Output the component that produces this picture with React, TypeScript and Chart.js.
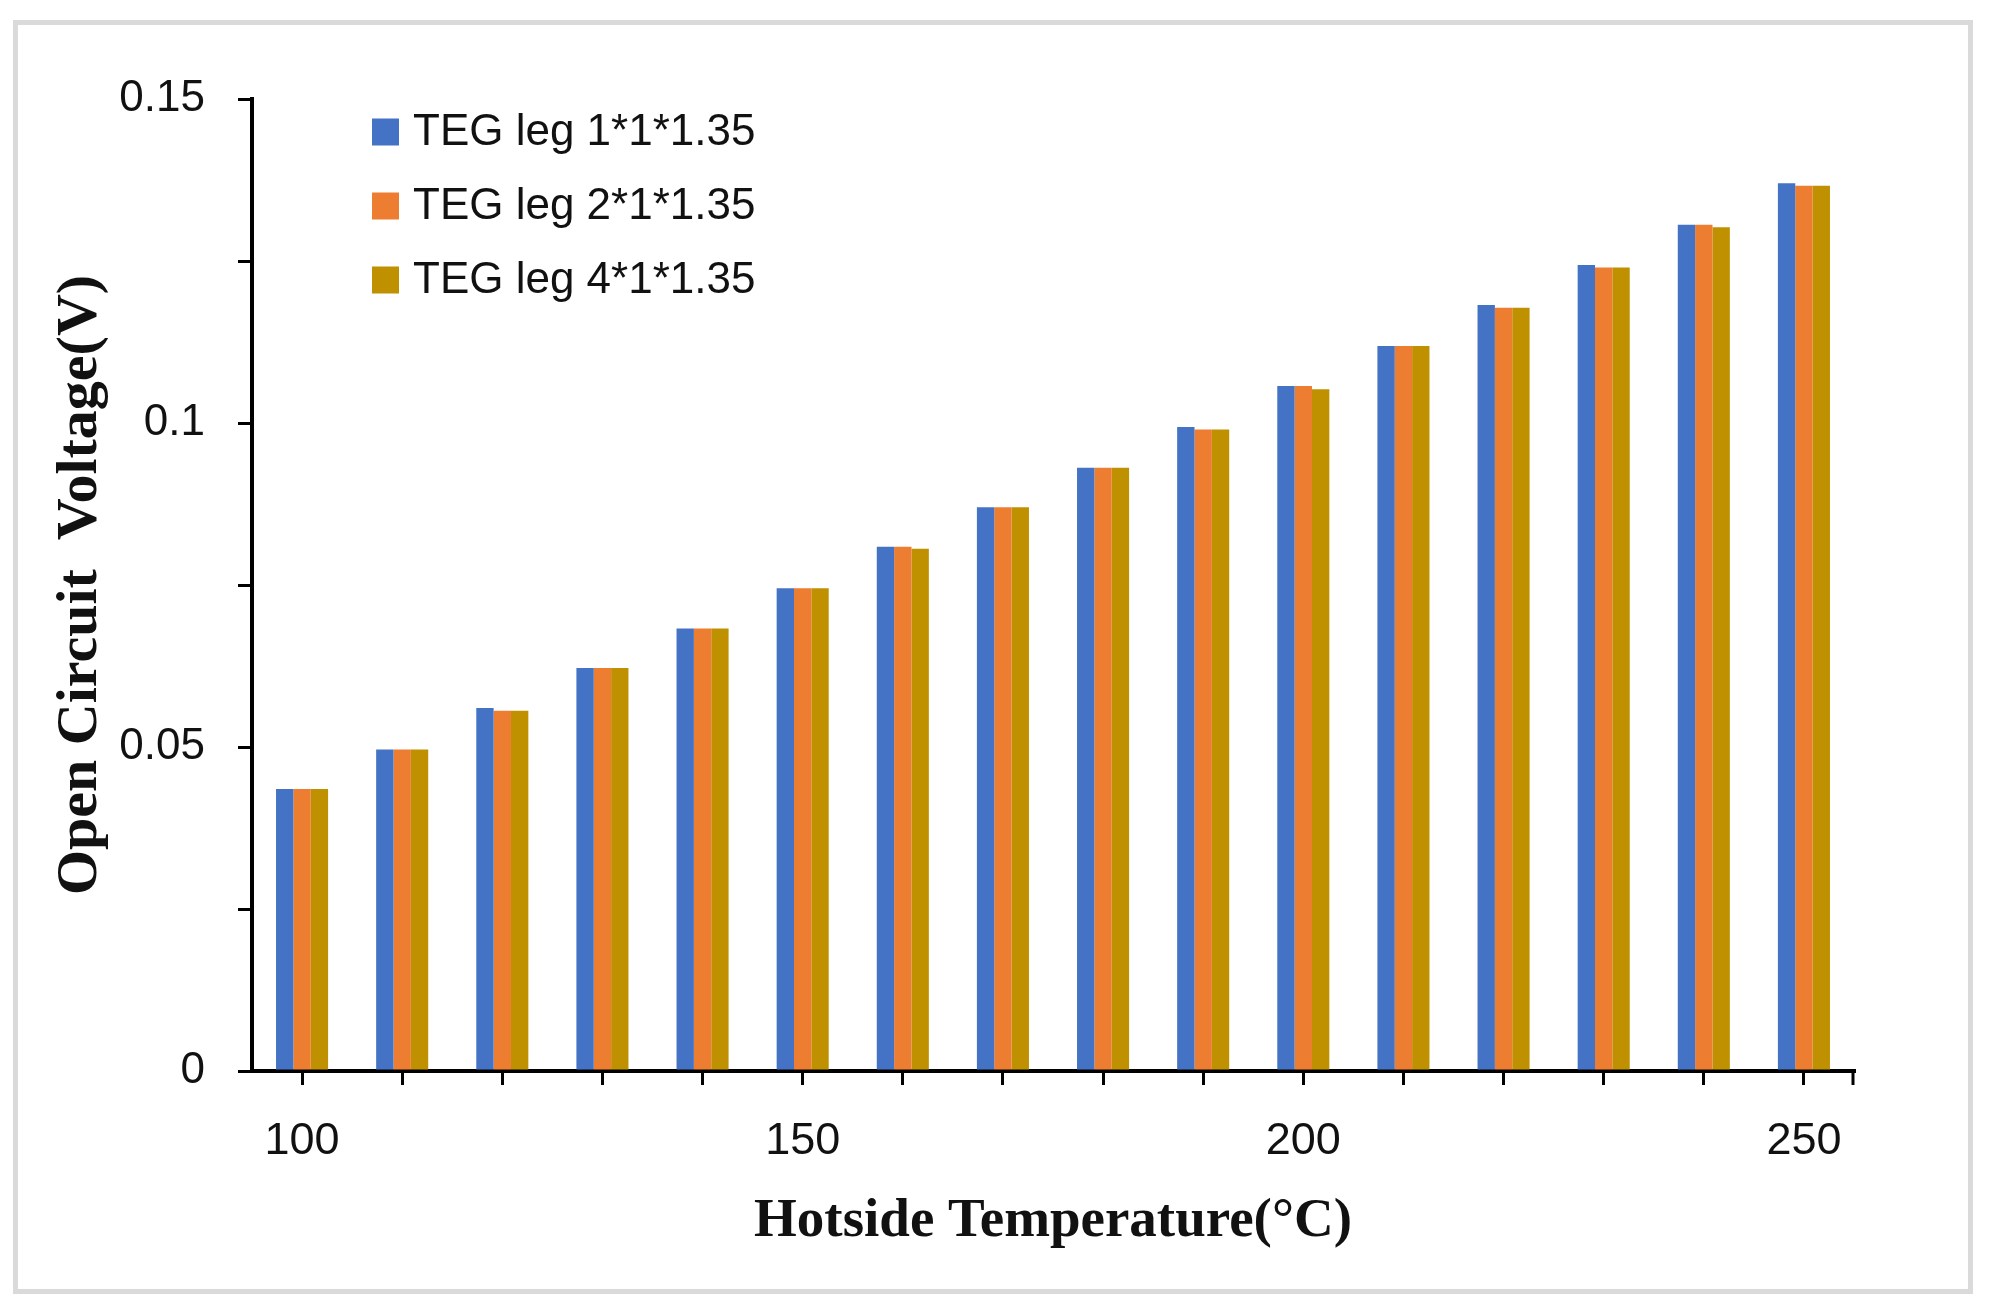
import React, { useEffect, useRef } from "react";
import { Chart, registerables } from "chart.js";

Chart.register(...registerables);

// ---- data ----
const categories = ["100", "110", "120", "130", "140", "150", "160", "170", "180", "190", "200", "210", "220", "230", "240", "250"];
const seriesLabels = ["TEG leg 1*1*1.35", "TEG leg 2*1*1.35", "TEG leg 4*1*1.35"];
const leg1Values = [0.0435, 0.0496, 0.0560, 0.0622, 0.0683, 0.0745, 0.0809, 0.0870, 0.0931, 0.0994, 0.1057, 0.1119, 0.1182, 0.1244, 0.1306, 0.1370];
const leg2Values = [0.0435, 0.0496, 0.0556, 0.0622, 0.0683, 0.0745, 0.0809, 0.0870, 0.0931, 0.0990, 0.1057, 0.1119, 0.1178, 0.1240, 0.1306, 0.1366];
const leg4Values = [0.0435, 0.0496, 0.0556, 0.0622, 0.0683, 0.0745, 0.0806, 0.0870, 0.0931, 0.0990, 0.1052, 0.1119, 0.1178, 0.1240, 0.1302, 0.1366];
const seriesColors = ["#4472C4", "#ED7D31", "#BF9000"];
const xTickLabels = ["100", "150", "200", "250"];
const yTickLabels = ["0", "0.05", "0.1", "0.15"];
const xTitle = "Hotside Temperature(\u00B0C)";
const yTitle = "Open Circuit  Voltage(V)";

const insideLegend = {
  id: "insideLegend",
  afterDraw(chart: any) {
    const { ctx, chartArea } = chart;
    ctx.save();
    ctx.font = "44px 'Liberation Sans'";
    ctx.textBaseline = "middle";
    ctx.textAlign = "left";
    chart.data.datasets.forEach((ds: any, i: number) => {
      const cy = chartArea.top + 33 + i * 74;
      const bx = chartArea.left + 120;
      ctx.fillStyle = ds.backgroundColor;
      ctx.fillRect(bx, cy - 13.5, 27, 27);
      ctx.fillStyle = "#111";
      ctx.fillText(ds.label, bx + 41, cy + 1);
    });
    // closing tick at the right end of the category axis
    const xs = chart.scales.x;
    ctx.strokeStyle = "#000";
    ctx.lineWidth = 3;
    ctx.beginPath();
    ctx.moveTo(xs.right - 1, xs.top);
    ctx.lineTo(xs.right - 1, xs.top + 14);
    ctx.stroke();
    ctx.restore();
  },
};

export default function App() {
  const ref = useRef<HTMLCanvasElement | null>(null);

  useEffect(() => {
    if (!ref.current) return;
    const chart = new Chart(ref.current, {
      type: "bar",
      data: {
        labels: categories,
        datasets: [leg1Values, leg2Values, leg4Values].map((vals, i) => ({
          label: seriesLabels[i],
          data: vals,
          backgroundColor: seriesColors[i],
          borderWidth: 0,
          categoryPercentage: 0.52,
          barPercentage: 1.0,
        })),
      },
      plugins: [insideLegend],
      options: {
        animation: false,
        responsive: true,
        maintainAspectRatio: false,
        devicePixelRatio: 1,
        layout: { padding: { left: 0, top: 99, right: 140, bottom: 0 } },
        plugins: {
          legend: { display: false },
          tooltip: { enabled: false },
          title: { display: false },
        },
        scales: {
          x: {
            type: "category",
            offset: true,
            afterFit(scale: any) {
              scale.height = 241;
            },
            grid: {
              offset: false,
              drawOnChartArea: false,
              drawTicks: true,
              tickLength: 14,
              color: "#000",
              lineWidth: 3,
            },
            border: { display: true, color: "#000", width: 4 },
            ticks: {
              autoSkip: false,
              maxRotation: 0,
              minRotation: 0,
              padding: 30,
              color: "#111",
              font: { family: "'Liberation Sans'", size: 45 },
              callback(this: any, value: any) {
                const lab = this.getLabelForValue(value);
                return xTickLabels.includes(lab) ? lab : "";
              },
            },
            title: {
              display: true,
              text: xTitle,
              color: "#111",
              font: { family: "'Liberation Serif'", size: 55, weight: "bold" },
              padding: { top: 0, bottom: 57 },
            },
          },
          y: {
            min: 0,
            max: 0.15,
            afterFit(scale: any) {
              scale.width = 252;
            },
            grid: {
              drawOnChartArea: false,
              drawTicks: true,
              tickLength: 14,
              color: "#000",
              lineWidth: 3,
            },
            border: { display: true, color: "#000", width: 4 },
            ticks: {
              stepSize: 0.025,
              padding: 33,
              color: "#111",
              font: { family: "'Liberation Sans'", size: 44 },
              callback(value: any) {
                const s = String(Number(Number(value).toFixed(3)));
                return yTickLabels.includes(s) ? s : "";
              },
            },
            title: {
              display: true,
              text: yTitle,
              color: "#111",
              font: { family: "'Liberation Serif'", size: 58, weight: "bold" },
              padding: { top: 46, bottom: 0 },
            },
          },
        },
      } as any,
    });
    return () => chart.destroy();
  }, []);

  return (
    <div style={{ position: "absolute", left: 0, top: 0, width: 1994, height: 1312, background: "#fff" }}>
      <div
        style={{
          position: "absolute",
          left: 13,
          top: 20,
          width: 1960,
          height: 1274,
          border: "5px solid #dadada",
          boxSizing: "border-box",
        }}
      />
      <div style={{ position: "absolute", left: 0, top: 0, width: 1994, height: 1312 }}>
        <canvas ref={ref} />
      </div>
    </div>
  );
}
